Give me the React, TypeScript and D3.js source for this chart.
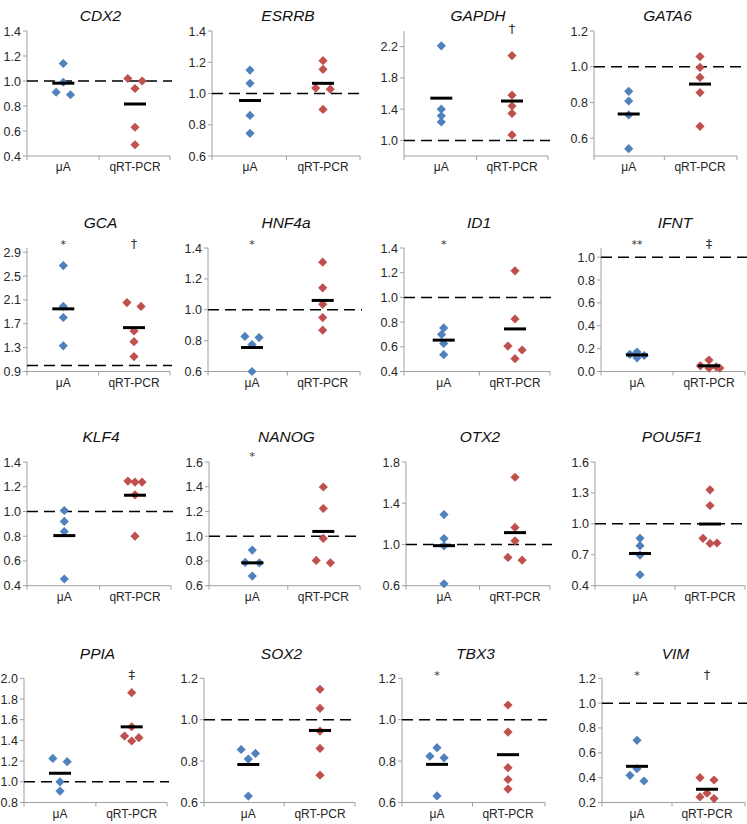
import React from "react";
import * as d3 from "d3";

// ---------- data ----------
const genes = ["CDX2", "ESRRB", "GAPDH", "GATA6", "GCA", "HNF4a", "ID1", "IFNT", "KLF4", "NANOG", "OTX2", "POU5F1", "PPIA", "SOX2", "TBX3", "VIM"];
const categories = ["μA", "qRT-PCR"];

const microarrayValues = [
  [1.14, 0.99, 0.91, 0.89],
  [1.15, 1.065, 0.86, 0.745],
  [2.21, 1.40, 1.315, 1.236],
  [0.862, 0.808, 0.73, 0.541],
  [2.676, 1.99, 1.805, 1.33],
  [0.827, 0.82, 0.775, 0.6],
  [0.753, 0.70, 0.627, 0.536],
  [0.17, 0.15, 0.12, 0.14],
  [1.008, 0.92, 0.838, 0.454],
  [0.888, 0.788, 0.785, 0.678],
  [1.29, 1.058, 0.987, 0.619],
  [0.86, 0.788, 0.697, 0.506],
  [1.226, 1.194, 1.0, 0.91],
  [0.856, 0.837, 0.81, 0.631],
  [0.865, 0.824, 0.816, 0.632],
  [0.701, 0.472, 0.419, 0.373],
];
const microarrayJitter = [
  [0, 0, -0.1, 0.1],
  [0, 0, 0, 0],
  [0, 0, 0, 0],
  [0, 0, 0, 0],
  [0, 0, 0, 0],
  [-0.1, 0.1, 0, 0],
  [0, -0.03, 0, 0],
  [0, -0.1, 0, 0.1],
  [0, 0, 0, 0],
  [0, -0.1, 0.1, 0],
  [0, 0, 0, 0],
  [0, 0, 0, 0],
  [-0.1, 0.1, 0, 0],
  [-0.1, 0.1, 0, 0],
  [0, -0.1, 0.1, 0],
  [0, 0, -0.1, 0.1],
];
const qpcrValues = [
  [1.02, 1.0, 0.94, 0.63, 0.49],
  [1.21, 1.155, 1.035, 1.028, 0.898],
  [2.086, 1.578, 1.44, 1.345, 1.07],
  [1.057, 0.996, 0.94, 0.855, 0.666],
  [2.056, 1.99, 1.58, 1.40, 1.15],
  [1.308, 1.142, 1.035, 0.949, 0.868],
  [1.215, 0.825, 0.606, 0.574, 0.504],
  [0.10, 0.05, 0.04, 0.03, 0.03],
  [1.246, 1.238, 1.238, 1.135, 0.80],
  [1.398, 1.224, 0.982, 0.804, 0.785],
  [1.652, 1.165, 1.035, 0.874, 0.848],
  [1.33, 1.178, 0.86, 0.81, 0.814],
  [1.861, 1.532, 1.442, 1.394, 1.426],
  [1.147, 1.055, 0.945, 0.861, 0.732],
  [1.071, 0.94, 0.768, 0.711, 0.665],
  [0.40, 0.381, 0.275, 0.245, 0.232],
];
const qpcrJitter = [
  [-0.1, 0.1, 0, 0, 0],
  [0, 0, -0.1, 0.1, 0],
  [0, 0, 0, 0, 0],
  [0, 0, 0, 0, 0],
  [-0.1, 0.1, 0, 0, 0],
  [0, 0, 0, 0, 0],
  [0, 0, -0.1, 0.1, 0],
  [0, -0.12, 0.1, 0, 0.15],
  [-0.1, 0, 0.1, 0, 0],
  [0, 0, 0, -0.1, 0.1],
  [0, 0, 0, -0.1, 0.1],
  [0, 0, -0.1, 0, 0.1],
  [0, 0, -0.1, 0, 0.1],
  [0, 0, 0, 0, 0],
  [0, 0, 0, 0, 0],
  [-0.1, 0.1, 0, -0.1, 0.1],
];
const yDomains = [
  [0.4, 1.4], [0.6, 1.4], [0.8, 2.4], [0.5, 1.2],
  [0.9, 2.97], [0.6, 1.4], [0.4, 1.4], [0, 1.08],
  [0.4, 1.4], [0.6, 1.6], [0.6, 1.8], [0.4, 1.6],
  [0.8, 2.0], [0.6, 1.2], [0.6, 1.2], [0.2, 1.2],
];
const yTickValues = [
  [0.4, 0.6, 0.8, 1.0, 1.2, 1.4],
  [0.6, 0.8, 1.0, 1.2, 1.4],
  [1.0, 1.4, 1.8, 2.2],
  [0.6, 0.8, 1.0, 1.2],
  [0.9, 1.3, 1.7, 2.1, 2.5, 2.9],
  [0.6, 0.8, 1.0, 1.2, 1.4],
  [0.4, 0.6, 0.8, 1.0, 1.2, 1.4],
  [0.0, 0.2, 0.4, 0.6, 0.8, 1.0],
  [0.4, 0.6, 0.8, 1.0, 1.2, 1.4],
  [0.6, 0.8, 1.0, 1.2, 1.4, 1.6],
  [0.6, 1.0, 1.4, 1.8],
  [0.4, 0.7, 1.0, 1.3, 1.6],
  [0.8, 1.0, 1.2, 1.4, 1.6, 1.8, 2.0],
  [0.6, 0.8, 1.0, 1.2],
  [0.6, 0.8, 1.0, 1.2],
  [0.2, 0.4, 0.6, 0.8, 1.0, 1.2],
];
const significanceMarks = [
  ["", ""], ["", ""], ["", "†"], ["", ""],
  ["*", "†"], ["*", ""], ["*", ""], ["**", "‡"],
  ["", ""], ["*", ""], ["", ""], ["", ""],
  ["", "‡"], ["", ""], ["*", ""], ["*", "†"],
];
const referenceLevel = 1.0;

// ---------- layout ----------
const rowTop = [31, 248, 462, 678.3];
const rowBottom = [156, 371.5, 585.7, 802.5];
const titleBaseline = [21, 228, 442, 659];
const markBaseline = [33, 248, 460, 679];
// [axisX, category1X, category2X, rightX]
const panelX = [
  [27, 63.3, 135, 170], [212, 250, 323, 360], [404, 441.3, 512, 548], [594, 628.7, 700, 737],
  [27, 63.3, 134, 170], [208, 252, 322.7, 360], [404, 443.7, 515, 550], [601, 637, 709, 745],
  [27, 64.3, 135, 171], [209, 252.3, 323.3, 360], [406, 444, 515, 550], [595, 640, 710, 745],
  [24, 60, 131.7, 167], [204, 248.3, 320, 355], [402, 437, 508, 545], [602, 637, 707, 745],
];

const W = 747;
const H = 824;
const BLUE = "#4f81bd";
const RED = "#c0504d";
const AXIS = "#a0a0a0";
const TEXT = "#262626";
const FONT = "'Liberation Sans', Arial, sans-serif";
const fmt = d3.format(".1f");

function Diamond({ cx, cy, r, fill }: { cx: number; cy: number; r: number; fill: string }) {
  const p = d3.path();
  p.moveTo(cx, cy - r);
  p.lineTo(cx + r, cy);
  p.lineTo(cx, cy + r);
  p.lineTo(cx - r, cy);
  p.closePath();
  return <path d={p.toString()} fill={fill} />;
}

function Panel({ i }: { i: number }) {
  const row = Math.floor(i / 4);
  const col = i % 4;
  const [axisX, c1, c2, rightX] = panelX[i];
  const y = d3.scaleLinear().domain(yDomains[i]).range([rowBottom[row], rowTop[row]]);
  const x = d3.scaleLinear().domain([1, 2]).range([c1, c2]);
  const top = rowTop[row];
  const bottom = rowBottom[row];
  const mid = (c1 + c2) / 2;
  const groups = [
    { vals: microarrayValues[i], jit: microarrayJitter[i], color: BLUE, pos: 1 },
    { vals: qpcrValues[i], jit: qpcrJitter[i], color: RED, pos: 2 },
  ];
  const dashEnd = col === 3 ? W : rightX + 2;
  return (
    <g>
      <text x={(axisX + rightX) / 2 + 2} y={titleBaseline[row]} textAnchor="middle" fontStyle="italic" fontSize={15.5} fill="#111">
        {genes[i]}
      </text>
      {/* y axis */}
      <line x1={axisX} x2={axisX} y1={top} y2={bottom} stroke={AXIS} strokeWidth={1} />
      {yTickValues[i].map((t) => (
        <g key={t}>
          <line x1={axisX - 4} x2={axisX} y1={y(t)} y2={y(t)} stroke={AXIS} />
          <text x={axisX - 6} y={y(t)} dy="0.36em" textAnchor="end" fontSize={12.5} fill={TEXT}>
            {fmt(t)}
          </text>
        </g>
      ))}
      {/* x axis */}
      <line x1={axisX} x2={rightX} y1={bottom} y2={bottom} stroke={AXIS} strokeWidth={1} />
      {[axisX, mid, rightX].map((tx, k) => (
        <line key={k} x1={tx} x2={tx} y1={bottom} y2={bottom + 4} stroke={AXIS} />
      ))}
      {categories.map((c, k) => (
        <text key={c} x={x(k + 1)} y={bottom + 15} textAnchor="middle" fontSize={12} fill={TEXT}>
          {c}
        </text>
      ))}
      {/* reference line */}
      <line x1={axisX} x2={dashEnd} y1={y(referenceLevel)} y2={y(referenceLevel)} stroke="#000" strokeWidth={1.5} strokeDasharray="11,6" />
      {/* points */}
      {groups.map((g, gi) =>
        g.vals.map((v, k) => <Diamond key={`${gi}-${k}`} cx={x(g.pos + g.jit[k])} cy={y(v)} r={4.6} fill={g.color} />)
      )}
      {/* means */}
      {groups.map((g, gi) => {
        const m = d3.mean(g.vals) as number;
        return <line key={`m${gi}`} x1={x(g.pos) - 11} x2={x(g.pos) + 11} y1={y(m)} y2={y(m)} stroke="#000" strokeWidth={3} />;
      })}
      {/* significance */}
      {significanceMarks[i].map((s, k) =>
        s ? (
          <text key={`s${k}`} x={x(k + 1)} y={markBaseline[row]} textAnchor="middle" fontSize={s.includes("*") ? 11 : 13} fill="#333" fontFamily="'DejaVu Sans', sans-serif">
            {s}
          </text>
        ) : null
      )}
    </g>
  );
}

export default function App() {
  return (
    <svg width={W} height={H} style={{ position: "absolute", left: 0, top: 0, background: "#fff" }} fontFamily={FONT}>
      <rect width={W} height={H} fill="#fff" />
      {genes.map((_, i) => (
        <Panel key={i} i={i} />
      ))}
    </svg>
  );
}
